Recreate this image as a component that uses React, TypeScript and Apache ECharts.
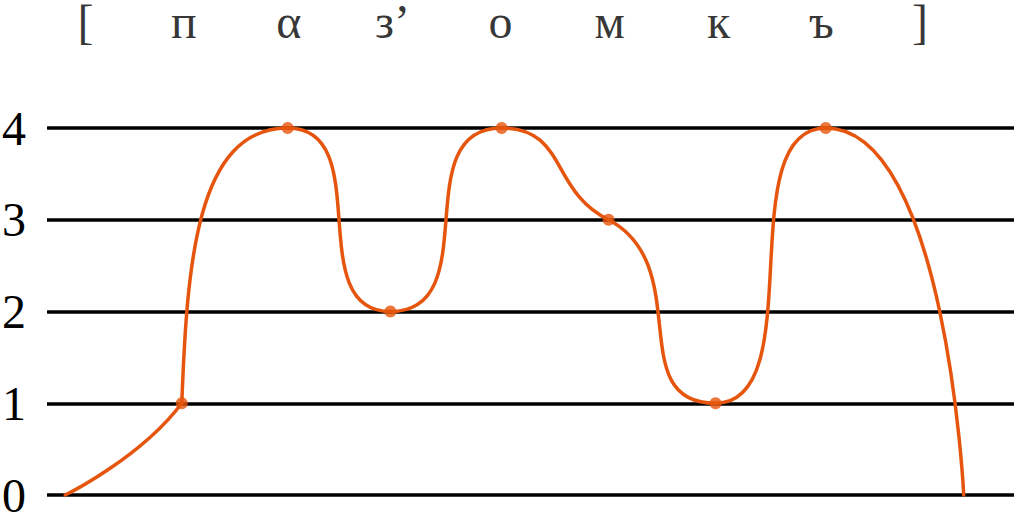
import React, { useEffect, useRef } from "react";
import * as echarts from "echarts";

// Contour points (x in segment units, y = level 0..4)
const pointX = [0.17, 1.26, 2.25, 3.21, 4.25, 5.25, 6.25, 7.28, 8.57];
const pointY = [0, 1, 4, 2, 4, 3, 1, 4, 0];
// Curve tangent slopes (levels per x unit) at the non-flat points; null = flat / free end
const slopeIn = [null, 1.55, null, null, null, -0.57, null, null, null];
const slopeOut = [null, 30, null, null, null, -0.62, null, null, null];

// Top row of symbols
const topLabels = ["[", "п", "α", "з’", "о", "м", "к", "ъ", "]"];
const topLabelX = [0.36, 1.28, 2.26, 3.23, 4.24, 5.26, 6.28, 7.24, 8.16];

// Level axis
const levelMin = 0;
const levelMax = 4;
const levelStep = 1;

const ORANGE = "#e6550d";
const SERIF = "'Liberation Serif', 'DejaVu Serif', serif";

export default function App() {
  const ref = useRef<HTMLDivElement>(null);

  useEffect(() => {
    if (!ref.current) return;
    const chart = echarts.init(ref.current, undefined, { renderer: "svg" });
    const n = pointX.length;
    const segments = pointX.slice(0, -1).map((x, i) => [x, pointY[i], i]);
    const markers = pointX.slice(1, -1).map((x, k) => [x, pointY[k + 1]]);
    const labelRow = 5.16;

    const renderItem = (params: any, api: any) => {
      const i = api.value(2) as number;
      const p0 = api.coord([pointX[i], pointY[i]]);
      const p3 = api.coord([pointX[i + 1], pointY[i + 1]]);
      const dx = p3[0] - p0[0];
      const dy = p3[1] - p0[1];
      const L = Math.hypot(dx, dy);
      const dir = (j: number, s: number | null) => {
        if (s == null) return [1, 0];
        const a = api.coord([pointX[j], pointY[j]]);
        const b = api.coord([pointX[j] + 1, pointY[j] + s]);
        const vx = b[0] - a[0];
        const vy = b[1] - a[1];
        const m = Math.hypot(vx, vy);
        return [vx / m, vy / m];
      };
      const handle = (u: number[]) =>
        Math.min(0.465 * L, (0.87 * Math.abs(dx)) / Math.max(Math.abs(u[0]), 1e-6));
      const u0 = dir(i, slopeOut[i]);
      const u1 = dir(i + 1, slopeIn[i + 1]);
      const h0 = i === 0 ? 0 : handle(u0);
      const h1 = i + 1 === n - 1 ? 0 : handle(u1);
      return {
        type: "bezierCurve",
        shape: {
          x1: p0[0],
          y1: p0[1],
          cpx1: p0[0] + h0 * u0[0],
          cpy1: p0[1] + h0 * u0[1],
          cpx2: p3[0] - h1 * u1[0],
          cpy2: p3[1] - h1 * u1[1],
          x2: p3[0],
          y2: p3[1],
        },
        style: { stroke: ORANGE, lineWidth: 3.5, fill: null, lineCap: "round" },
      };
    };

    chart.setOption({
      animation: false,
      backgroundColor: "#ffffff",
      grid: {
        left: 47,
        right: 0,
        top: 128,
        bottom: 17,
        containLabel: false,
        outerBoundsMode: "none",
      },
      xAxis: {
        type: "value",
        min: 0,
        max: 9.04,
        show: false,
      },
      yAxis: {
        type: "value",
        min: levelMin,
        max: levelMax,
        interval: levelStep,
        axisLine: { show: false },
        axisTick: { show: false },
        axisLabel: {
          margin: 21,
          color: "#000",
          fontFamily: SERIF,
          fontSize: 48,
          lineHeight: 32,
        },
        splitLine: { show: true, lineStyle: { color: "#000", width: 3.5 } },
      },
      series: [
        {
          type: "custom",
          coordinateSystem: "cartesian2d",
          data: segments,
          encode: { x: 0, y: 1 },
          renderItem,
          clip: false,
          z: 2,
          silent: true,
        },
        {
          type: "scatter",
          data: markers,
          symbol: "circle",
          symbolSize: 12,
          itemStyle: { color: ORANGE },
          z: 3,
          silent: true,
        },
        {
          type: "scatter",
          data: topLabels.map((t, i) => ({ name: t, value: [topLabelX[i], labelRow] })),
          symbolSize: 1,
          itemStyle: { color: "transparent" },
          clip: false,
          z: 4,
          silent: true,
          label: {
            show: true,
            position: "inside",
            formatter: "{b}",
            color: "#000",
            fontFamily: SERIF,
            fontSize: 48,
            lineHeight: 36,
          },
        },
      ],
    });
    return () => chart.dispose();
  }, []);

  return (
    <div
      ref={ref}
      style={{ position: "absolute", left: 0, top: 0, width: 1014, height: 512, background: "#fff" }}
    />
  );
}
